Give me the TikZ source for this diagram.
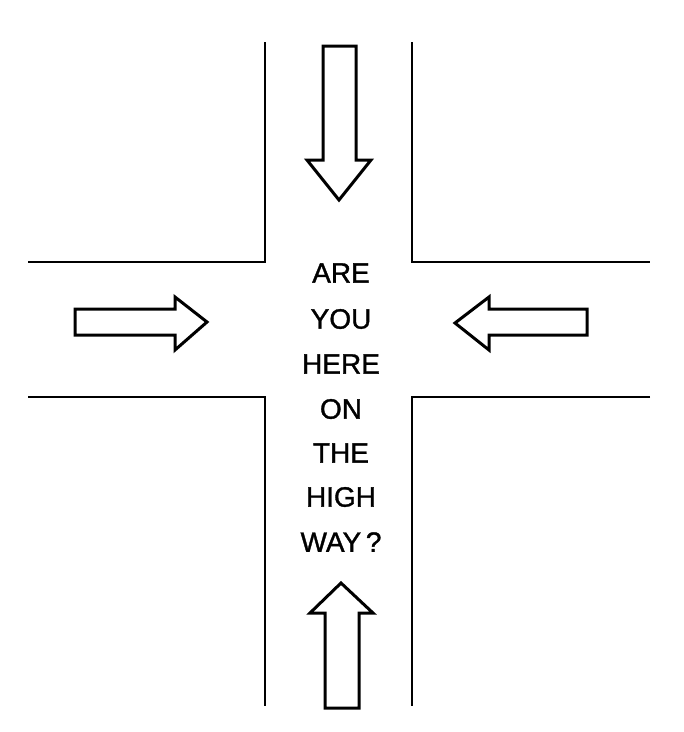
\documentclass[tikz,border=0pt]{standalone}
\usepackage{fontspec}
\setmainfont{Liberation Sans}
\newfontfamily\signfont[FakeBold=1.2]{Liberation Sans}
\begin{document}
\begin{tikzpicture}[x=1pt,y=-1pt,
  road/.style={line width=2.6pt,line cap=butt},
  bigarrow/.style={line width=3pt,line join=miter,fill=white},
  word/.style={font=\signfont\fontsize{28}{28}\selectfont,inner sep=0pt,anchor=center}]
\useasboundingbox[fill=white] (0,0) rectangle (684,732);
% road edges
\draw[road] (265,42) -- (265,262) -- (28,262);
\draw[road] (412,42) -- (412,262) -- (650,262);
\draw[road] (28,397) -- (265,397) -- (265,706);
\draw[road] (650,397) -- (412,397) -- (412,706);
% top arrow (down)
\draw[bigarrow] (323,46) -- (356,46) -- (356,160) -- (371,160) -- (339,200) -- (307,160) -- (323,160) -- cycle;
% bottom arrow (up)
\draw[bigarrow] (325,708) -- (359,708) -- (359,613) -- (373,613) -- (341,583) -- (310,613) -- (325,613) -- cycle;
% left arrow (right)
\draw[bigarrow] (75,309) -- (175,309) -- (175,297) -- (207,322) -- (175,350) -- (175,335) -- (75,335) -- cycle;
% right arrow (left)
\draw[bigarrow] (587,309) -- (489,309) -- (489,297) -- (455,323) -- (489,350) -- (489,335) -- (587,335) -- cycle;
% text
\node[word] (t1) at (341,273) {ARE};
\node[word] (t2) at (341,319) {YOU};
\node[word] (t3) at (341,364) {HERE};
\node[word] (t4) at (341,409) {ON};
\node[word] (t5) at (341,453) {THE};
\node[word] (t6) at (341,497) {HIGH};
\node[word] (t7) at (341,542) {WAY\,?};
\end{tikzpicture}
\end{document}
